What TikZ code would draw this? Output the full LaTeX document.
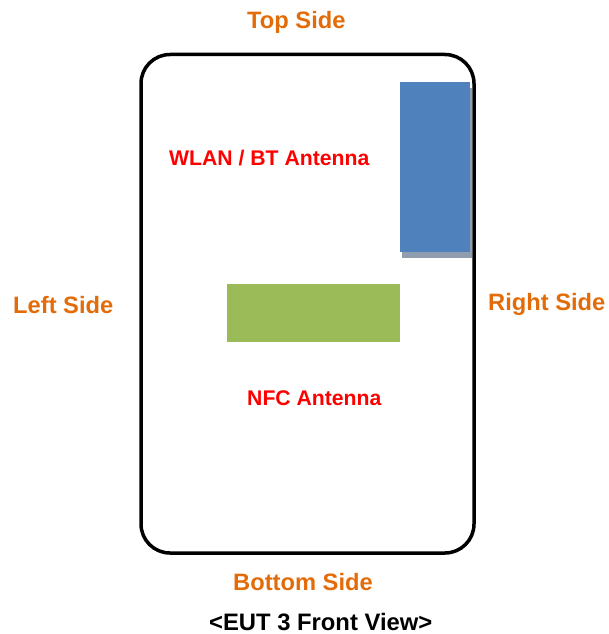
\documentclass[tikz,border=0pt]{standalone}
\usepackage{fontspec}
\setmainfont{Liberation Sans}
\definecolor{sideorange}{HTML}{E36C09}
\definecolor{antred}{HTML}{FF0000}
\definecolor{wlanblue}{HTML}{4F81BD}
\definecolor{nfcgreen}{HTML}{9BBB59}
\definecolor{shadowgrey}{HTML}{8F9DAE}
\begin{document}
\begin{tikzpicture}[x=1pt,y=-1pt,
  sidelabel/.style={anchor=base west,inner sep=0pt,text=sideorange,font=\fontsize{23.7}{28}\selectfont\bfseries},
  antlabel/.style={anchor=base west,inner sep=0pt,text=antred,font=\fontsize{21.2}{25}\selectfont\bfseries},
  titlelabel/.style={anchor=base west,inner sep=0pt,text=black,font=\fontsize{23.8}{28}\selectfont\bfseries}]
\useasboundingbox (0,0) rectangle (609,634);
% phone outline
\draw[line width=3.5pt,rounded corners=29pt] (141,54.5) rectangle (474,553);
% WLAN/BT antenna with shadow
\fill[shadowgrey] (402,88) rectangle (472,257.5);
\fill[wlanblue] (400,82) rectangle (470,252);
\coordinate (wlan) at (435,167);
% NFC antenna
\fill[nfcgreen] (227,284) rectangle (400,342);
\coordinate (nfc) at (313,313);
% labels
\node[sidelabel] (top) at (247,29) {Top Side};
\node[sidelabel] (left) at (13,313) {Left Side};
\node[sidelabel] (right) at (488,310) {Right Side};
\node[sidelabel] (bottom) at (233,590) {Bottom Side};
\node[antlabel] (wlantext) at (169,165) {WLAN / BT Antenna};
\node[antlabel] (nfctext) at (247,405) {NFC Antenna};
\node[titlelabel] (title) at (209,630) {<EUT 3 Front View>};
\end{tikzpicture}
\end{document}
